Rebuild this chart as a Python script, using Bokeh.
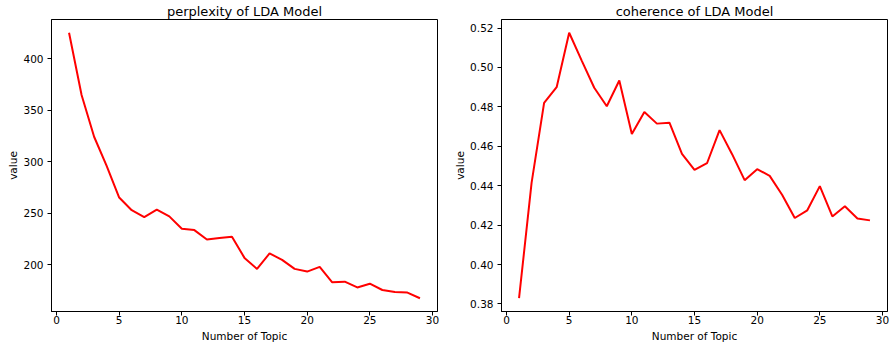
from bokeh.plotting import figure
from bokeh.layouts import row
from bokeh.models import FixedTicker, NumeralTickFormatter, Range1d, Title
from bokeh.embed import file_html
from bokeh.resources import INLINE

topics = list(range(1, 30))
perplexity = [425.4, 365.0, 324.4, 296.0, 265.3, 253.0, 246.4, 253.6, 247.0, 235.0,
              233.7, 224.6, 226.0, 227.2, 206.7, 196.0, 211.0, 204.8, 196.0, 193.4,
              197.9, 183.0, 183.6, 178.0, 181.6, 175.5, 173.5, 173.0, 167.5]
coherence = [0.3829, 0.4414, 0.4820, 0.4900, 0.5176, 0.5035, 0.4897, 0.4803, 0.4934, 0.4662,
             0.4774, 0.4715, 0.4720, 0.4561, 0.4480, 0.4514, 0.4682, 0.4560, 0.4428, 0.4484,
             0.4450, 0.4353, 0.4236, 0.4275, 0.4398, 0.4244, 0.4296, 0.4234, 0.4224]
x_ticks = [0, 5, 10, 15, 20, 25, 30]
perp_ticks = [200, 250, 300, 350, 400]
coh_ticks = [0.38, 0.40, 0.42, 0.44, 0.46, 0.48, 0.50, 0.52]
x_label = "Number of Topic"
y_label = "value"

FONT = "DejaVu Sans"


def make(title, ys, yticks, width, left, right, fmt):
    lo, hi = min(ys), max(ys)
    pad = (hi - lo) * 0.05
    p = figure(width=width, height=345, output_backend="svg", toolbar_location=None,
               x_range=Range1d(-0.4, 30.4), y_range=Range1d(lo - pad, hi + pad),
               min_border_left=left, min_border_right=right, min_border_top=0,
               min_border_bottom=34)
    p.title.text = title
    p.title.align = "center"
    p.title.text_font = FONT
    p.title.text_font_size = "13px"
    p.title.text_font_style = "normal"
    p.title.text_color = "black"
    p.title.standoff = 2
    p.line(topics, ys, line_color="red", line_width=2)
    p.xgrid.visible = False
    p.ygrid.visible = False
    p.outline_line_color = "black"
    p.outline_line_alpha = 1
    for ax in (p.xaxis[0], p.yaxis[0]):
        ax.axis_line_color = "black"
        ax.major_tick_line_color = "black"
        ax.minor_tick_line_color = None
        ax.major_tick_in = 0
        ax.major_tick_out = 4
        ax.major_label_text_font = FONT
        ax.major_label_text_font_size = "10.5px"
        ax.major_label_text_color = "black"
    p.xaxis[0].major_label_standoff = 0
    p.yaxis[0].major_label_standoff = 4
    p.xaxis[0].ticker = FixedTicker(ticks=x_ticks)
    p.yaxis[0].ticker = FixedTicker(ticks=yticks)
    if fmt:
        p.yaxis[0].formatter = NumeralTickFormatter(format=fmt)
    xl = Title(text=x_label, align="center", text_font=FONT, text_font_size="10.5px",
               text_font_style="normal", text_color="black", standoff=3)
    p.add_layout(xl, "below")
    yl = Title(text=y_label, align="center", text_font=FONT, text_font_size="10.5px",
               text_font_style="normal", text_color="black", standoff=3)
    p.add_layout(yl, "left")
    return p


p1 = make("perplexity of LDA Model", perplexity, perp_ticks, 449, 51, 12, None)
p2 = make("coherence of LDA Model", coherence, coh_ticks, 443, 52, 5, "0.00")

layout = row(p1, p2)
open("out.html", "w").write(file_html(layout, INLINE))
